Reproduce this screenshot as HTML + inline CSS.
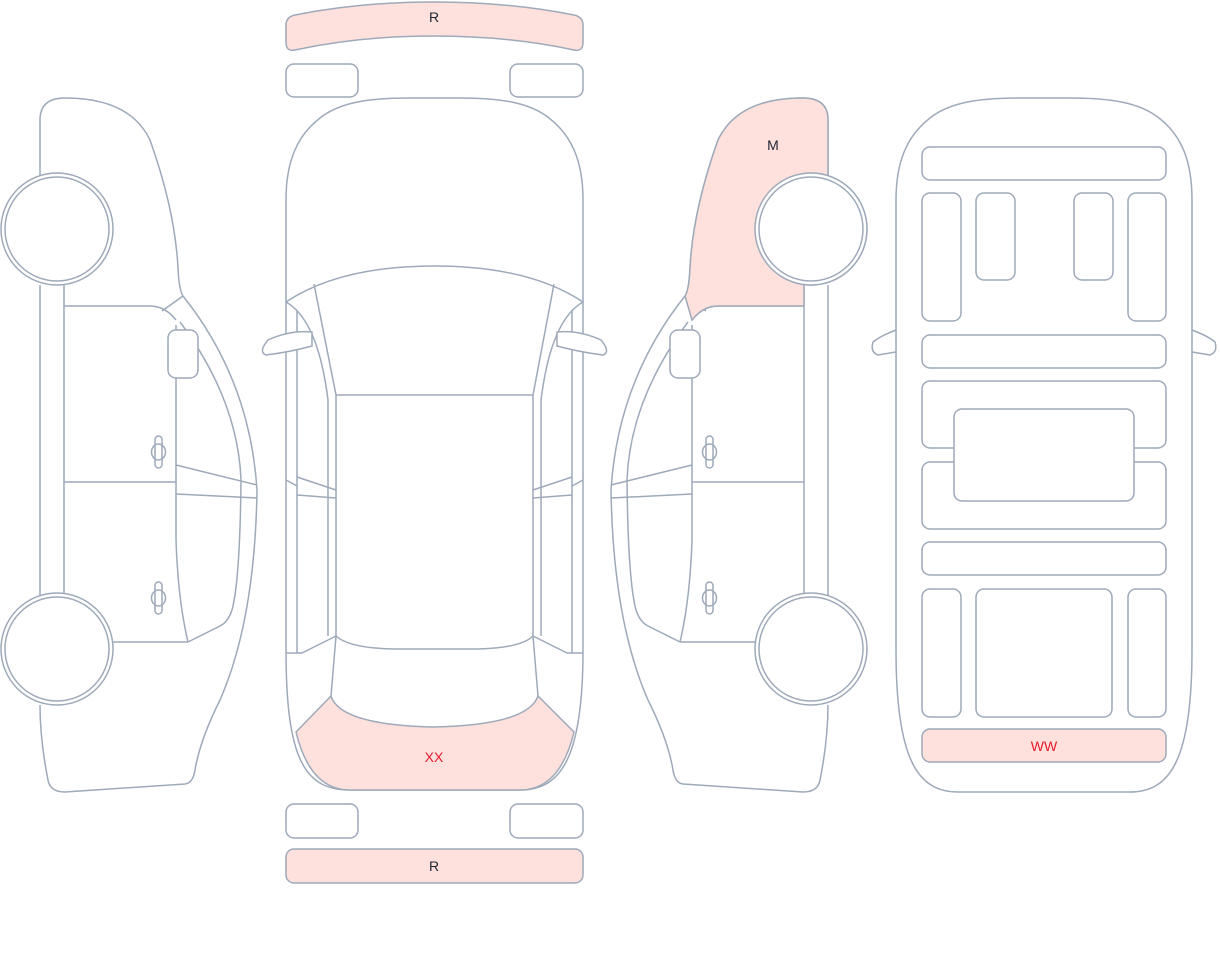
<!DOCTYPE html>
<html><head><meta charset="utf-8"><style>
html,body{margin:0;padding:0;background:#fff;width:1220px;height:967px;overflow:hidden}
svg{display:block}
text{font-family:"Liberation Sans",sans-serif;font-size:14px;text-anchor:middle}
</style></head><body>
<svg width="1220" height="967" viewBox="0 0 1220 967" xmlns="http://www.w3.org/2000/svg">
<defs>
<g id="side" fill="none" stroke="#9ea9ba" stroke-width="1.5">
  <path d="M40,175 L40,120 Q40,98 65,98 Q130,98 150,140 Q175,210 178,268 Q179,290 183,296 Q250,380 257,490 Q255,620 220,700 Q200,740 195,770 Q193,783 185,784 L65,792 Q50,792 48,780 Q40,740 40,705" fill="#fff"/>
  <path d="M40,285 L40,595 M64,285 L64,595"/>
  <path d="M64,306 L150,306 Q165,306 176,320 M183,296 L162,311"/>
  <path d="M64,482 L176,482 M113,642 L188,642"/>
  <path d="M176,325 L176,540 Q178,600 188,642"/>
  <path d="M180,322 Q238,400 241,480 Q240,580 232,610 Q228,622 220,626 L188,642"/>
  <path d="M176,465 L257,485 M176,494 L257,498"/>
  <rect x="168" y="330" width="30" height="48" rx="8" fill="#fff"/>
  <rect x="155" y="436" width="7" height="32" rx="3.5" fill="#fff"/>
  <ellipse cx="158.5" cy="452" rx="7" ry="8"/>
  <rect x="155" y="582" width="7" height="32" rx="3.5" fill="#fff"/>
  <ellipse cx="158.5" cy="598" rx="7" ry="8"/>
  <circle cx="57" cy="229" r="56" fill="#fff"/><circle cx="57" cy="229" r="52"/>
  <circle cx="57" cy="649" r="56" fill="#fff"/><circle cx="57" cy="649" r="52"/>
</g>
</defs>
<use href="#side"/>
<g transform="translate(868,0) scale(-1,1)">
  <use href="#side"/>
  <path d="M183,296 Q179,290 178,268 Q175,210 150,140 Q130,98 65,98 Q40,98 40,120 L40,175.6 A56,56 0 1 1 64,284.6 L64,306 L150,306 Q165,306 176,320 Z" fill="#fee1dd" stroke="#9ea9ba" stroke-width="1.5"/>
  <circle cx="57" cy="229" r="56" fill="#fff" stroke="#9ea9ba" stroke-width="1.5"/><circle cx="57" cy="229" r="52" fill="none" stroke="#9ea9ba" stroke-width="1.5"/>
</g>
<text x="773" y="150" fill="#1f2533">M</text>

<g fill="none" stroke="#9ea9ba" stroke-width="1.5">
  <path d="M286,25 Q286,17 295,15 Q360,2 434,2 Q509,2 574,15 Q583,17 583,25 L583,42 Q583,52 574,50 Q509,36 434,36 Q360,36 295,50 Q286,52 286,42Z" fill="#fee1dd"/>
  <rect x="286" y="64" width="72" height="33" rx="8"/>
  <rect x="510" y="64" width="73" height="33" rx="8"/>
  <rect x="286" y="804" width="72" height="34" rx="8"/>
  <rect x="510" y="804" width="73" height="34" rx="8"/>
  <rect x="286" y="849" width="297" height="34" rx="8" fill="#fee1dd"/>
  <path d="M286,650 L286,200 C286,160 298,135 320,118 C340,102 370,98 410,98 L459,98 C499,98 529,102 549,118 C571,135 583,160 583,200 L583,650 C583,760 560,790 520,790 L350,790 C305,790 286,760 286,650Z"/>
  <path d="M296,732 L331,696 Q340,725 434,727 Q528,725 538,696 L574,732 Q560,790 520,790 L350,790 Q310,790 296,732Z" fill="#fee1dd"/>
  <path d="M286,302 Q340,266 434,266 Q529,266 583,302"/>
  <path d="M286,302 Q318,320 328,400 L328,636 M583,302 Q551,320 541,400 L541,636"/>
  <path d="M314,284 L336,395 M554,284 L533,395 M336,395 L533,395 M336,395 L336,636 M533,395 L533,636"/>
  <path d="M336,636 Q350,649 400,649 L470,649 Q520,649 533,636 M336,636 L331,696 M533,636 L538,696"/>
  <path d="M297,310 L297,653 M572,310 L572,653 M286,653 L302,653 L336,636 M583,653 L567,653 L533,636"/>
  <path d="M286,480 L297,486 M297,477 L336,490 M297,495 L336,498 M583,480 L572,486 M572,477 L533,490 M572,495 L533,498"/>
  <path d="M312,332 Q290,330 268,340 Q258,352 266,355 Q290,352 312,346 Z" fill="#fff"/>
  <path d="M557,332 Q579,330 601,340 Q611,352 603,355 Q579,352 557,346 Z" fill="#fff"/>

  <path d="M896,650 L896,200 C896,160 908,135 930,118 C950,102 980,98 1020,98 L1069,98 C1109,98 1139,102 1159,118 C1181,135 1192,160 1192,200 L1192,650 C1192,760 1170,792 1130,792 L958,792 C918,792 896,760 896,650Z"/>
  <path d="M896,330 Q880,336 873,342 Q870,352 878,355 L896,352"/>
  <path d="M1192,330 Q1208,336 1215,342 Q1218,352 1210,355 L1192,352"/>
  <rect x="922" y="147" width="244" height="33" rx="8"/>
  <rect x="922" y="193" width="39" height="128" rx="8"/>
  <rect x="976" y="193" width="39" height="87" rx="8"/>
  <rect x="1074" y="193" width="39" height="87" rx="8"/>
  <rect x="1128" y="193" width="38" height="128" rx="8"/>
  <rect x="922" y="335" width="244" height="33" rx="8"/>
  <rect x="922" y="381" width="244" height="67" rx="8"/>
  <rect x="922" y="462" width="244" height="67" rx="8"/>
  <rect x="954" y="409" width="180" height="92" rx="8" fill="#fff"/>
  <rect x="922" y="542" width="244" height="33" rx="8"/>
  <rect x="922" y="589" width="39" height="128" rx="8"/>
  <rect x="976" y="589" width="136" height="128" rx="8"/>
  <rect x="1128" y="589" width="38" height="128" rx="8"/>
  <rect x="922" y="729" width="244" height="33" rx="8" fill="#fee1dd"/>
</g>
<text x="434" y="22" fill="#1f2533">R</text>
<text x="434" y="871" fill="#1f2533">R</text>
<text x="434" y="762" fill="#e8192c">XX</text>
<text x="1044" y="751" fill="#e8192c">WW</text>
</svg>
</body></html>
